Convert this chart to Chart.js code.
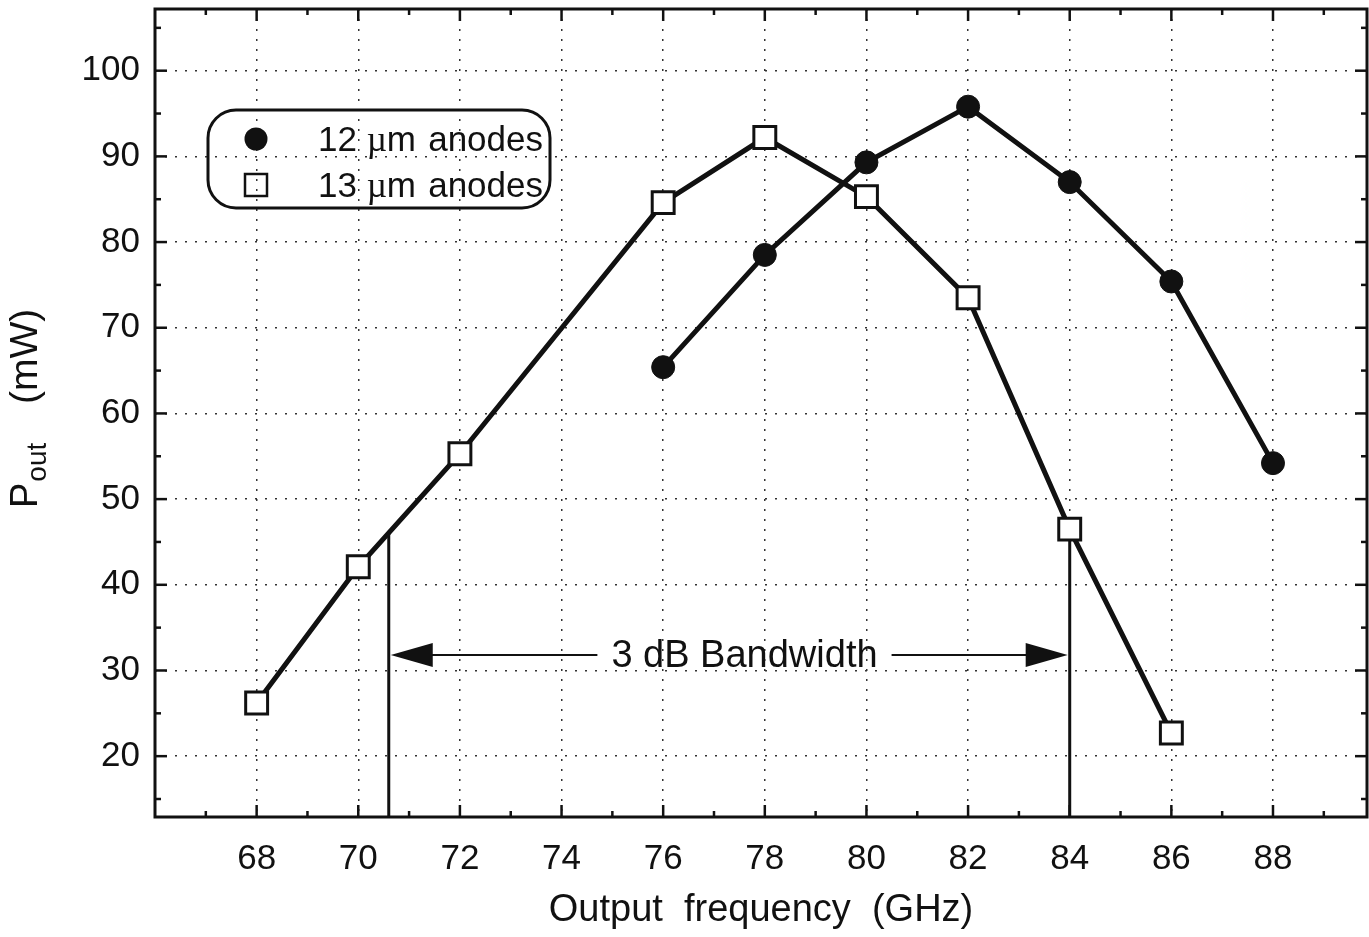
<!DOCTYPE html>
<html>
<head>
<meta charset="utf-8">
<script src="https://cdn.jsdelivr.net/npm/chart.js@4"></script>
<style>
  html, body { margin: 0; padding: 0; background: #fff; }
</style>
</head>
<body>
<canvas id="chart" width="1369" height="937"></canvas>
<script>
// Output power vs frequency for two anode diameters.
const freq12 = [76, 78, 80, 82, 84, 86, 88];
const pout12 = [65.4, 78.5, 89.3, 95.8, 87.0, 75.4, 54.2];
const freq13 = [68, 70, 72, 76, 78, 80, 82, 84, 86];
const pout13 = [26.2, 42.1, 55.3, 84.6, 92.2, 85.3, 73.5, 46.5, 22.7];

const xTicks = [68, 70, 72, 74, 76, 78, 80, 82, 84, 86, 88];
const yTicks = [20, 30, 40, 50, 60, 70, 80, 90, 100];

// 3 dB bandwidth markers (GHz) and where they meet the 13 um curve (mW)
const bwEdges = [70.6, 84];
const bwTops = [46.0, 46.5];
const bwArrowLevel = 31.8;
const bwLabelAt = 77.6;
const bwLabel = "3 dB Bandwidth";

const legendNums = ["12", "13"];

const xMin = 66, xMax = 89.85, yMin = 12.9, yMax = 107.2;
const ink = "#111";
const sans = "'Liberation Sans', Arial, Helvetica, sans-serif";
const serif = "'Liberation Serif', 'Times New Roman', serif";

function seg(ctx, x1, y1, x2, y2) {
  ctx.beginPath();
  ctx.moveTo(x1, y1);
  ctx.lineTo(x2, y2);
  ctx.stroke();
}

// Frame with inward major/minor ticks on all four sides.
const framePlugin = {
  id: "frame",
  afterDraw(chart) {
    const { ctx, chartArea: a, scales: { x, y } } = chart;
    ctx.save();
    ctx.strokeStyle = ink;
    ctx.lineWidth = 2.5;
    for (let v = 67; v <= 89; v++) {
      const px = x.getPixelForValue(v);
      const len = v % 2 === 0 ? 12 : 6;
      seg(ctx, px, a.bottom, px, a.bottom - len);
      seg(ctx, px, a.top, px, a.top + len);
    }
    for (let v = 15; v <= 105; v += 5) {
      const py = y.getPixelForValue(v);
      const len = v % 10 === 0 ? 12 : 6;
      seg(ctx, a.left, py, a.left + len, py);
      seg(ctx, a.right, py, a.right - len, py);
    }
    ctx.lineWidth = 3;
    ctx.strokeRect(a.left, a.top, a.right - a.left, a.bottom - a.top);
    ctx.restore();
  },
};

// Double arrow with the bandwidth label, legend box, and the y title.
const notesPlugin = {
  id: "notes",
  afterDraw(chart) {
    const { ctx, scales: { x, y } } = chart;
    ctx.save();
    ctx.fillStyle = ink;
    ctx.strokeStyle = ink;

    // arrow
    const ay = y.getPixelForValue(bwArrowLevel);
    const x1 = x.getPixelForValue(bwEdges[0]) + 2;
    const x2 = x.getPixelForValue(bwEdges[1]) - 2;
    const cx = x.getPixelForValue(bwLabelAt);
    ctx.font = "38px " + sans;
    const tw = ctx.measureText(bwLabel).width;
    ctx.textAlign = "center";
    ctx.textBaseline = "middle";
    ctx.fillText(bwLabel, cx, ay + 1);
    ctx.lineWidth = 2;
    seg(ctx, x1 + 30, ay, cx - tw / 2 - 14, ay);
    seg(ctx, cx + tw / 2 + 14, ay, x2 - 30, ay);
    ctx.beginPath();
    ctx.moveTo(x1, ay);
    ctx.lineTo(x1 + 42, ay - 12);
    ctx.lineTo(x1 + 42, ay + 12);
    ctx.closePath();
    ctx.fill();
    ctx.beginPath();
    ctx.moveTo(x2, ay);
    ctx.lineTo(x2 - 42, ay - 12);
    ctx.lineTo(x2 - 42, ay + 12);
    ctx.closePath();
    ctx.fill();

    // legend
    ctx.lineWidth = 3;
    ctx.beginPath();
    ctx.roundRect(208, 110, 342, 98, 28);
    ctx.stroke();
    ctx.beginPath();
    ctx.arc(256, 139, 11.5, 0, Math.PI * 2);
    ctx.fill();
    ctx.lineWidth = 2.5;
    ctx.strokeRect(245, 174, 22, 22);
    ctx.textAlign = "left";
    ctx.textBaseline = "alphabetic";
    [151, 197].forEach((by, i) => {
      let px = 318;
      ctx.font = "35px " + sans;
      ctx.fillText(legendNums[i], px, by);
      px += ctx.measureText(legendNums[i] + " ").width;
      ctx.font = "35px " + serif;
      ctx.fillText("\u00b5", px, by);
      px += ctx.measureText("\u00b5").width;
      ctx.font = "35px " + sans;
      ctx.fillText("m", px, by);
      ctx.textAlign = "right";
      ctx.fillText("anodes", 543, by);
      ctx.textAlign = "left";
    });

    // y title: P_out (mW)
    ctx.translate(37, 508);
    ctx.rotate(-Math.PI / 2);
    ctx.font = "38px " + sans;
    ctx.fillText("P", 0, 0);
    const pw = ctx.measureText("P").width;
    ctx.font = "28px " + sans;
    ctx.fillText("out", pw + 1, 9);
    ctx.font = "39px " + sans;
    ctx.fillText("(mW)", 104, 0);
    ctx.restore();
  },
};

const toPoints = (xs, ys) => xs.map((v, i) => ({ x: v, y: ys[i] }));

new Chart(document.getElementById("chart"), {
  type: "scatter",
  data: {
    datasets: [
      {
        label: "12 \u00b5m anodes",
        data: toPoints(freq12, pout12),
        showLine: true,
        borderColor: ink,
        borderWidth: 5,
        pointStyle: "circle",
        pointRadius: 11.5,
        pointBackgroundColor: ink,
        pointBorderColor: ink,
        pointBorderWidth: 1,
        order: 1,
      },
      {
        label: "13 \u00b5m anodes",
        data: toPoints(freq13, pout13),
        showLine: true,
        borderColor: ink,
        borderWidth: 5,
        pointStyle: "rect",
        pointRadius: 15.5,
        pointBackgroundColor: "#fff",
        pointBorderColor: ink,
        pointBorderWidth: 3,
        order: 2,
      },
      {
        label: "bw-left",
        data: [{ x: bwEdges[0], y: bwTops[0] }, { x: bwEdges[0], y: yMin }],
        showLine: true,
        borderColor: ink,
        borderWidth: 3,
        pointRadius: 0,
        order: 3,
      },
      {
        label: "bw-right",
        data: [{ x: bwEdges[1], y: bwTops[1] }, { x: bwEdges[1], y: yMin }],
        showLine: true,
        borderColor: ink,
        borderWidth: 3,
        pointRadius: 0,
        order: 3,
      },
    ],
  },
  options: {
    responsive: false,
    animation: false,
    layout: { autoPadding: false, padding: { left: 0, right: 2, top: 9, bottom: 0 } },
    plugins: {
      legend: { display: false },
      tooltip: { enabled: false },
    },
    scales: {
      x: {
        type: "linear",
        min: xMin,
        max: xMax,
        afterBuildTicks: (axis) => { axis.ticks = xTicks.map((v) => ({ value: v })); },
        afterFit: (axis) => {
          axis.height = 120;
          axis.paddingLeft = 0;
          axis.paddingRight = 0;
        },
        ticks: {
          color: ink,
          font: { family: sans, size: 35 },
          padding: 21,
          maxRotation: 0,
          autoSkip: false,
        },
        grid: { color: "#333", lineWidth: 1.5, drawTicks: false },
        border: { display: false, dash: [2, 8] },
        title: {
          display: true,
          text: "Output  frequency  (GHz)",
          color: ink,
          font: { family: sans, size: 38 },
          padding: { top: 0, bottom: 4 },
        },
      },
      y: {
        min: yMin,
        max: yMax,
        afterBuildTicks: (axis) => { axis.ticks = yTicks.map((v) => ({ value: v })); },
        afterFit: (axis) => {
          axis.width = 155;
          axis.paddingTop = 0;
          axis.paddingBottom = 0;
        },
        ticks: {
          color: ink,
          font: { family: sans, size: 35 },
          padding: 15,
        },
        grid: { color: "#333", lineWidth: 1.5, drawTicks: false },
        border: { display: false, dash: [2, 8] },
      },
    },
  },
  plugins: [framePlugin, notesPlugin],
});
</script>
</body>
</html>
